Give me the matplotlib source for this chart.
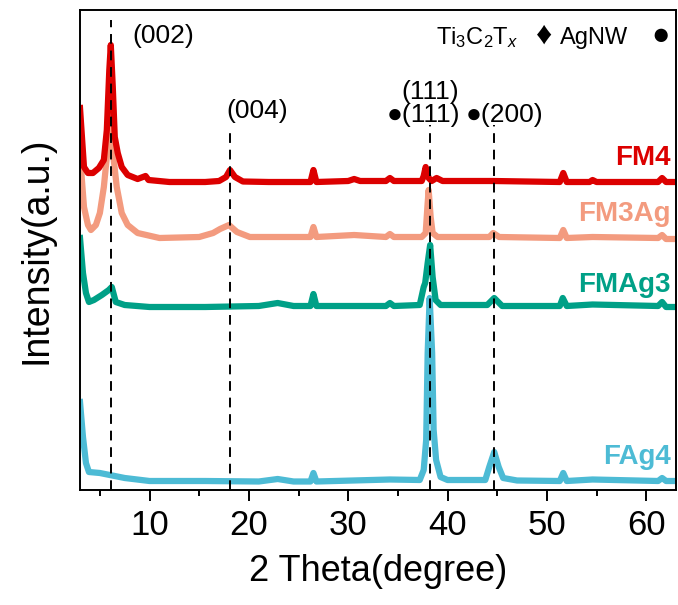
import matplotlib.pyplot as plt

plt.rcParams['font.family'] = ['Liberation Sans', 'DejaVu Sans']
plt.rcParams['mathtext.fontset'] = 'custom'
plt.rcParams['mathtext.rm'] = 'Liberation Sans'
plt.rcParams['mathtext.it'] = 'Liberation Sans:italic'

# stacked XRD patterns (already offset, arbitrary units)
fm4_x = [3.0, 3.4, 3.8, 4.3, 4.9, 5.4, 5.7, 5.95, 6.1, 6.3, 6.5, 6.8, 7.2, 7.8, 8.8,
         9.6, 9.9, 12, 15.6, 17.0, 17.7, 18.1, 18.6, 19.4, 22, 26.2, 26.5, 26.8,
         30, 30.6, 31.2, 33.8, 34.2, 34.6, 37.4, 37.6, 37.8, 38.1, 38.4, 38.9, 39.5,
         44.6, 51.3, 51.65, 52.0, 54.3, 54.6, 55.0, 61.2, 61.6, 62.0, 63]
fm4_y = [382, 323, 317, 317, 322, 330, 360, 420, 445, 403, 353, 337, 323, 315, 311,
         314, 310, 308, 308, 309, 313, 320, 313, 308.5, 308, 308, 320, 308,
         309, 311, 309, 309, 312, 309, 309, 314, 323, 312, 309, 312, 309,
         309, 308, 317, 308, 308, 310, 308, 308, 312, 308, 308]

fm3ag_x = [3.0, 3.4, 3.8, 4.1, 4.6, 5.0, 5.4, 5.8, 6.1, 6.4, 6.7, 7.2, 7.8, 8.8, 11,
           15, 16.4, 17.1, 18.0, 18.8, 20.1, 22, 26.2, 26.5, 26.8, 30.6, 33.8, 34.2,
           34.6, 37.4, 37.8, 38.0, 38.1, 38.3, 38.5, 39, 44.2, 44.6, 45.2, 51.3,
           51.65, 52.0, 54.6, 61.2, 61.6, 62.0, 63]
fm3ag_y = [335, 283, 265, 260, 265, 277, 303, 343, 390, 330, 303, 277, 265, 257, 252,
           253, 257, 261, 265, 258, 253, 253, 253, 263, 253, 255, 253, 256,
           253, 253, 257, 287, 300, 273, 257, 253, 253, 257, 253, 252,
           260, 252, 253, 252, 255, 251, 251]

fmag3_x = [3.0, 3.3, 3.6, 3.9, 4.4, 5.2, 5.9, 6.2, 6.6, 7.5, 10, 15.6, 21, 22.9, 24.5,
           26.2, 26.5, 26.8, 33.8, 34.2, 34.6, 37.2, 37.6, 37.75, 38.0, 38.25, 38.5,
           38.8, 39.3, 44.0, 44.7, 45.5, 51.3, 51.6, 52.0, 54.6, 61.2, 61.6, 62.0, 63]
fmag3_y = [252, 217, 197, 188, 190, 195, 200, 203, 188, 185, 183, 183, 184, 187, 184,
           184, 196, 184, 184, 187, 184, 185, 203, 207, 227, 245, 213,
           190, 185, 185, 192, 184, 184, 192, 184, 185.5, 184, 188, 183, 183]

fag4_x = [3.0, 3.3, 3.6, 3.9, 5, 6.0, 7.5, 10, 15.6, 21, 22.9, 24.5, 26.2, 26.5, 26.8,
          34.2, 37.2, 37.6, 37.85, 38.0, 38.2, 38.45, 38.6, 38.85, 39.3, 40, 43.8,
          44.2, 44.7, 45.15, 45.6, 47, 51.3, 51.65, 52.0, 54.6, 61.2, 61.6, 62.0, 63]
fag4_y = [88, 53, 27, 18, 17, 15, 12, 9, 9, 8.5, 11, 8.5, 8.5, 17, 8.5,
          10.5, 10, 20, 50, 137, 192, 137, 60, 30, 13, 10, 10,
          23, 38, 23, 12, 9.5, 9, 17, 9, 10.5, 9, 12, 9, 9]

samples = ['FAg4', 'FMAg3', 'FM3Ag', 'FM4']
colors = ['#4DBBD5', '#00A087', '#F39B7F', '#DC0000']
label_y = [33, 205, 276, 332]

# reference peak positions and how far up the dashed guides go
ref_pos = [6.1, 18.1, 38.25, 44.7]
ref_top = [470, 362, 365, 365]

fig = plt.figure(figsize=(6.78, 6.05), dpi=100)
ax = fig.add_axes([80/678, 115/605, 596/678, 480/605])

curves = [(fag4_x, fag4_y), (fmag3_x, fmag3_y), (fm3ag_x, fm3ag_y), (fm4_x, fm4_y)]
for (xs, ys), name, c, ly in zip(curves, samples, colors, label_y):
    ax.plot(xs, ys, color=c, lw=4.5, solid_joinstyle='round')
    ax.text(62.5, ly, name, color=c, fontsize=20, fontweight='bold',
            ha='right', va='center')

for p, t in zip(ref_pos, ref_top):
    ax.plot([p, p], [0, t], color='black', lw=1.4, ls=(0, (5, 3.5)))

ax.text(11.4, 454, '(002)', fontsize=19, ha='center', va='center')
ax.text(20.8, 379, '(004)', fontsize=19, ha='center', va='center')
ax.text(38.3, 398, '(111)', fontsize=19, ha='center', va='center')
ax.text(37.6, 375, '\u25cf(111)', fontsize=19, ha='center', va='center')
ax.text(45.7, 375, '\u25cf(200)', fontsize=19, ha='center', va='center')

# symbol key in the top right corner
ax.text(43.0, 452, r'Ti$_3$C$_2$T$_x$', fontsize=17, ha='center', va='center')
ax.text(49.7, 454, '\u2666', fontsize=23, ha='center', va='center')
ax.text(54.75, 452, 'AgNW', fontsize=17, ha='center', va='center')
ax.text(61.4, 454, '\u25cf', fontsize=22, ha='center', va='center')

ax.set_xlim(3, 63)
ax.set_ylim(0, 480)
ax.set_xticks([10, 20, 30, 40, 50, 60])
ax.set_xticks([5, 15, 25, 35, 45, 55], minor=True)
ax.set_yticks([])
ax.tick_params(axis='x', which='major', direction='out', length=8, width=1.4,
               labelsize=25, pad=6)
ax.tick_params(axis='x', which='minor', direction='out', length=4, width=1.4)
for s in ax.spines.values():
    s.set_linewidth(1.4)
ax.set_xlabel('2 Theta(degree)', fontsize=26, labelpad=8)
ax.set_ylabel('Intensity(a.u.)', fontsize=27, labelpad=18)

fig.savefig('out.png', dpi=100)
